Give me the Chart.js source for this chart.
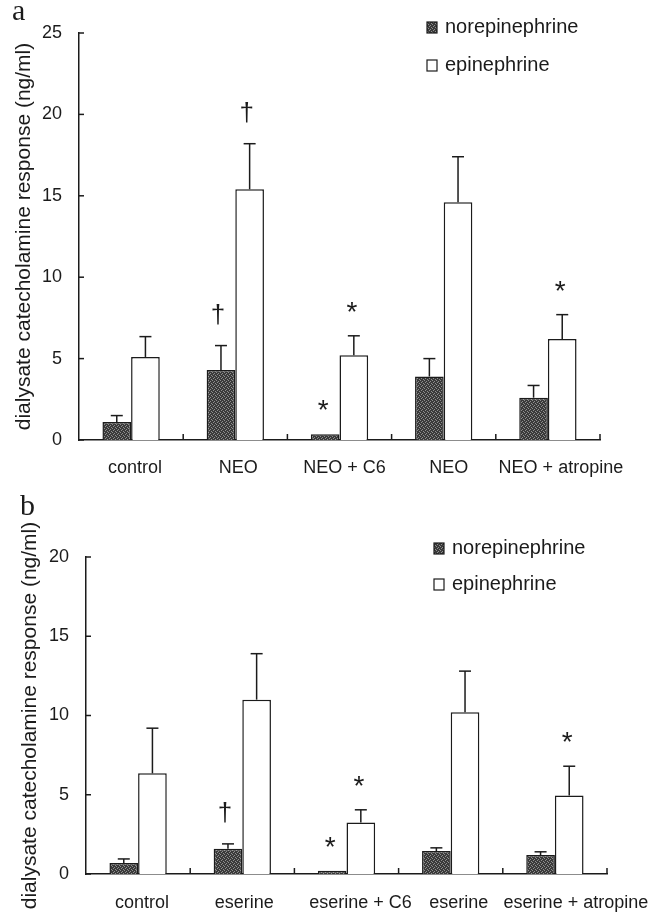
<!DOCTYPE html>
<html>
<head>
<meta charset="utf-8">
<script src="https://cdn.jsdelivr.net/npm/chart.js@4.4.1/dist/chart.umd.min.js"></script>
<style>
  html, body { margin: 0; padding: 0; background: #fff; }
  #wrap { position: relative; width: 664px; height: 913px; }
  canvas { position: absolute; left: 0; }
  #chartA { top: 0; }
  #chartB { top: 490px; }
</style>
</head>
<body>
<div id="wrap">
  <canvas id="chartA" width="664" height="490"></canvas>
  <canvas id="chartB" width="664" height="423"></canvas>
</div>
<script>
// panel a - neostigmine (NEO)
const groupsA = ['control', 'NEO', 'NEO + C6', 'NEO', 'NEO + atropine'];
const neA = [1.1, 4.3, 0.35, 3.9, 2.6];
const neErrA = [0.4, 1.5, 0, 1.1, 0.75];
const epiA = [5.1, 15.4, 5.2, 14.6, 6.2];
const epiErrA = [1.25, 2.8, 1.2, 2.8, 1.5];
const neSigA = ['', '†', '*', '', ''];
const epiSigA = ['', '†', '*', '', '*'];
const yTicksA = [0, 5, 10, 15, 20, 25];

// panel b - eserine
const groupsB = ['control', 'eserine', 'eserine + C6', 'eserine', 'eserine + atropine'];
const neB = [0.7, 1.6, 0.2, 1.45, 1.2];
const neErrB = [0.25, 0.3, 0, 0.2, 0.2];
const epiB = [6.35, 11.0, 3.25, 10.2, 4.95];
const epiErrB = [2.85, 2.9, 0.8, 2.6, 1.85];
const neSigB = ['', '†', '*', '', ''];
const epiSigB = ['', '', '*', '', '*'];
const yTicksB = [0, 5, 10, 15, 20];

const seriesNames = ['norepinephrine', 'epinephrine'];
const yTitle = 'dialysate catecholamine response (ng/ml)';

const ink = '#1b1b1b';
const sans = "'Liberation Sans', Arial, sans-serif";
Chart.defaults.font.family = sans;
Chart.defaults.color = ink;

// speckled dark fill like the scanned bars
function stipple(ctx) {
  const c = document.createElement('canvas');
  c.width = 4; c.height = 4;
  const g = c.getContext('2d');
  g.fillStyle = '#3a3a3a'; g.fillRect(0, 0, 4, 4);
  g.fillStyle = '#8e8e8e';
  g.fillRect(0, 0, 1, 1); g.fillRect(2, 1, 1, 1); g.fillRect(1, 2, 1, 1); g.fillRect(3, 3, 1, 1);
  return ctx.createPattern(c, 'repeat');
}

function line(ctx, x1, y1, x2, y2) {
  ctx.beginPath(); ctx.moveTo(x1, y1); ctx.lineTo(x2, y2); ctx.stroke();
}

// error bars, inward ticks, category labels, significance marks, legend, panel letter
function extras(cfg) {
  return {
    id: 'extras',
    afterDatasetsDraw(chart) {
      const ctx = chart.ctx;
      const xs = chart.scales.x, ys = chart.scales.y;
      const area = chart.chartArea;
      ctx.save();
      ctx.strokeStyle = ink;
      ctx.lineWidth = 1.5;

      ys.ticks.forEach(t => {
        const py = ys.getPixelForValue(t.value);
        line(ctx, area.left, py, area.left + 5, py);
      });
      const n = chart.data.labels.length;
      for (let i = 1; i <= n; i++) {
        const px = xs.getPixelForValue(i - 0.5);
        line(ctx, px, area.bottom, px, area.bottom - 6);
      }

      // category labels (the scan places them a little off-centre)
      ctx.fillStyle = ink;
      ctx.font = '18px ' + sans;
      ctx.textAlign = 'center';
      ctx.textBaseline = 'middle';
      chart.data.labels.forEach((lab, i) => {
        ctx.fillText(lab, xs.getPixelForValue(i) + cfg.labelShift[i], area.bottom + cfg.labelGap);
      });

      chart.data.datasets.forEach((ds, d) => {
        const meta = chart.getDatasetMeta(d);
        meta.data.forEach((bar, i) => {
          const top = ys.getPixelForValue(ds.data[i] + cfg.errors[d][i]);
          if (cfg.errors[d][i] > 0) {
            line(ctx, bar.x, bar.y, bar.x, top);
            line(ctx, bar.x - 6, top, bar.x + 6, top);
          }
          const s = cfg.sig[d][i];
          if (s) {
            const cy = Math.min(top, bar.y) - 31;
            ctx.fillStyle = ink;
            ctx.textAlign = 'center';
            ctx.textBaseline = 'alphabetic';
            if (s === '*') {
              ctx.font = '28px ' + sans;
              ctx.fillText(s, bar.x - 2, cy + 16);
            } else {
              ctx.font = '26px ' + sans;
              ctx.fillText(s, bar.x - 3, cy + 8);
            }
          }
        });
      });

      // legend
      const lg = cfg.legend;
      chart.data.datasets.forEach((ds, d) => {
        const cy = lg.y[d];
        ctx.fillStyle = ds.backgroundColor;
        ctx.fillRect(lg.x, cy - 5, 10, 11);
        ctx.lineWidth = 1.2;
        ctx.strokeRect(lg.x, cy - 5, 10, 11);
        ctx.fillStyle = ink;
        ctx.font = '20px ' + sans;
        ctx.textAlign = 'left';
        ctx.textBaseline = 'middle';
        ctx.fillText(ds.label, lg.x + 18, cy);
      });

      ctx.font = "30px 'Liberation Serif', 'Times New Roman', serif";
      ctx.textAlign = 'left';
      ctx.textBaseline = 'alphabetic';
      ctx.fillText(cfg.letter.text, cfg.letter.x, cfg.letter.y);
      ctx.restore();
    }
  };
}

function makeChart(id, groups, ne, epi, yTicks, box, cfg) {
  const ctx = document.getElementById(id).getContext('2d');
  return new Chart(ctx, {
    type: 'bar',
    data: {
      labels: groups,
      datasets: [
        { label: seriesNames[0], data: ne, backgroundColor: stipple(ctx), borderColor: ink, borderWidth: 1.5,
          categoryPercentage: 0.55, barPercentage: 1.0 },
        { label: seriesNames[1], data: epi, backgroundColor: '#ffffff', borderColor: ink, borderWidth: 1.5,
          categoryPercentage: 0.55, barPercentage: 1.0 }
      ]
    },
    options: {
      responsive: false,
      animation: false,
      layout: { padding: { top: box.top, right: box.right, left: 0, bottom: 0 } },
      plugins: { legend: { display: false }, tooltip: { enabled: false } },
      scales: {
        x: {
          offset: true,
          grid: { display: false, drawTicks: false },
          border: { display: true, color: ink, width: 1.5 },
          ticks: { display: false },
          afterFit: s => { s.height = box.xHeight; }
        },
        y: {
          min: 0,
          max: yTicks[yTicks.length - 1],
          afterBuildTicks: s => { s.ticks = yTicks.map(v => ({ value: v })); },
          afterFit: s => { s.width = box.left; },
          grid: { display: false, drawTicks: false },
          border: { display: true, color: ink, width: 1.5 },
          ticks: { padding: 17, font: { size: 18 }, color: ink },
          title: { display: true, text: yTitle, font: { size: 21 }, color: ink,
                   padding: { top: box.titlePad, bottom: 0 } }
        }
      }
    },
    plugins: [extras(cfg)]
  });
}

makeChart('chartA', groupsA, neA, epiA, yTicksA,
  { top: 33, right: 64, left: 79, xHeight: 50, titlePad: 12 },
  { errors: [neErrA, epiErrA], sig: [neSigA, epiSigA],
    labelShift: [4, 3, 5, 5, 13], labelGap: 28,
    legend: { x: 427, y: [27, 65] }, letter: { text: 'a', x: 12, y: 20 } });

makeChart('chartB', groupsB, neB, epiB, yTicksB,
  { top: 67, right: 57, left: 86, xHeight: 39, titlePad: 18 },
  { errors: [neErrB, epiErrB], sig: [neSigB, epiSigB],
    labelShift: [4, 2, 14, 8, 21], labelGap: 29,
    legend: { x: 434, y: [58, 94] }, letter: { text: 'b', x: 20, y: 25 } });
</script>
</body>
</html>
